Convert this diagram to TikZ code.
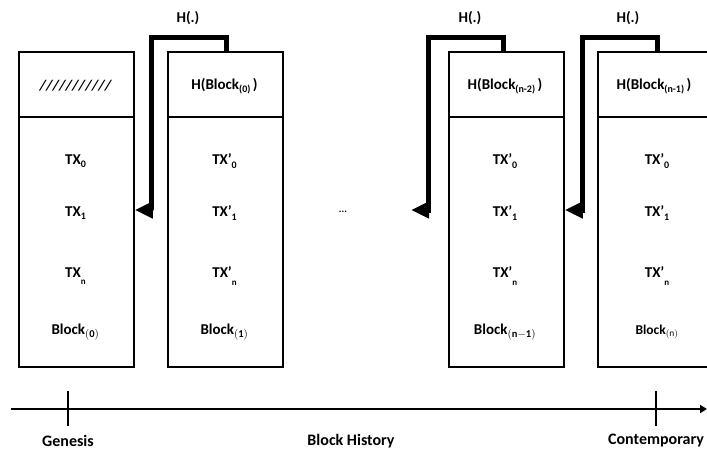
\documentclass[tikz,border=0pt]{standalone}
\usepackage{fontspec}
\setmainfont{Carlito}
\usetikzlibrary{arrows.meta}
\newcommand\lsub[1]{\raisebox{-0.45ex}{\fontsize{10}{10}\selectfont #1}}
\newcommand\nsub[1]{\raisebox{-1.0ex}{\fontsize{9}{9}\selectfont #1}}
\begin{document}
\begin{tikzpicture}[x=1pt,y=-1pt,
  blk/.style={draw,line width=1.8pt,minimum width=115pt,minimum height=315pt,inner sep=0pt,anchor=north west},
  lbl/.style={font=\fontsize{15}{18}\selectfont\bfseries,inner sep=1pt},
  axl/.style={font=\fontsize{16}{18}\selectfont\bfseries,inner sep=0pt},
  hash/.style={line width=5pt,line join=miter,-{Triangle[length=18pt,width=16pt]}},
  divl/.style={line width=1.8pt}]
\useasboundingbox (0,0) rectangle (707,450);
% blocks
\node[blk] (b1) at (18,51) {};
\node[blk] (b2) at (167,51) {};
\node[blk] (b3) at (448,51) {};
\node[blk] (b4) at (597,51) {};
\foreach \b in {b1,b2,b3,b4}{
  \draw[divl] ([yshift=-66pt]\b.north west) -- ([yshift=-66pt]\b.north east);
}
% block 1
\node[lbl] (t1h) at (75.5,86) {\itshape ///////////};
\node[lbl] (t1a) at (75.5,161) {TX\lsub{0}};
\node[lbl] (t1b) at (75.5,213) {TX\lsub{1}};
\node[lbl] (t1c) at (75.5,276) {TX\nsub{n}};
\node[lbl] (t1d) at (75.5,332) {Block$_{\mathbf{(0)}}$};
% block 2
\node[lbl] (t2h) at (224.5,86) {H(Block\lsub{(0)}\,)};
\node[lbl] (t2a) at (224.5,161) {TX’\lsub{0}};
\node[lbl] (t2b) at (224.5,213) {TX’\lsub{1}};
\node[lbl] (t2c) at (224.5,276) {TX’\nsub{n}};
\node[lbl] (t2d) at (224.5,332) {Block$_{\mathbf{(1)}}$};
% block 3
\node[lbl] (t3h) at (505,86) {H(Block\lsub{(n-2)}\,)};
\node[lbl] (t3a) at (505,161) {TX’\lsub{0}};
\node[lbl] (t3b) at (505,213) {TX’\lsub{1}};
\node[lbl] (t3c) at (505,276) {TX’\nsub{n}};
\node[lbl] (t3d) at (505,332) {Block$_{\mathbf{(n-1)}}$};
% block 4
\node[lbl] (t4h) at (654,86) {H(Block\lsub{(n-1)}\,)};
\node[lbl] (t4a) at (657,161) {TX’\lsub{0}};
\node[lbl] (t4b) at (657,213) {TX’\lsub{1}};
\node[lbl] (t4c) at (657,276) {TX’\nsub{n}};
\node[lbl,font=\fontsize{13.5}{16}\selectfont\bfseries] (t4d) at (657,332) {Block$_{\mathrm{(n)}}$};
% dots
\node[font=\fontsize{10}{10}\selectfont\bfseries] (dots) at (343,212) {...};
% hash labels
\node[lbl] (h2l) at (188,18) {H(.)};
\node[lbl] (h3l) at (470,18) {H(.)};
\node[lbl] (h4l) at (628,18) {H(.)};
% hash connectors
\coordinate (h2) at (226,52);
\coordinate (h3) at (503,52);
\coordinate (h4) at (657,52);
\coordinate (e3) at (411,210);
\draw[hash] (h2) |- (151,37) -- (151,210) -- (b1.east |- 0,210);
\draw[hash] (h3) |- (428,37) -- (428,210) -- (e3);
\draw[hash] (h4) |- (582,37) -- (582,210) -- (b3.east |- 0,210);
% time axis
\coordinate (ax0) at (11,409);
\coordinate (ax1) at (707,409);
\draw[line width=2pt,-{Triangle[length=7pt,width=8pt]}] (ax0) -- (ax1);
\coordinate (g0) at (68,391);
\coordinate (g1) at (68,426);
\coordinate (c0) at (656,391);
\coordinate (c1) at (656,426);
\draw[line width=2.2pt] (g0) -- (g1);
\draw[line width=2.2pt] (c0) -- (c1);
\node[axl] (gen) at (68,441) {Genesis};
\node[axl] (hist) at (351,441) {Block History};
\node[axl] (cont) at (656,441) {Contemporary};
\end{tikzpicture}
\end{document}
